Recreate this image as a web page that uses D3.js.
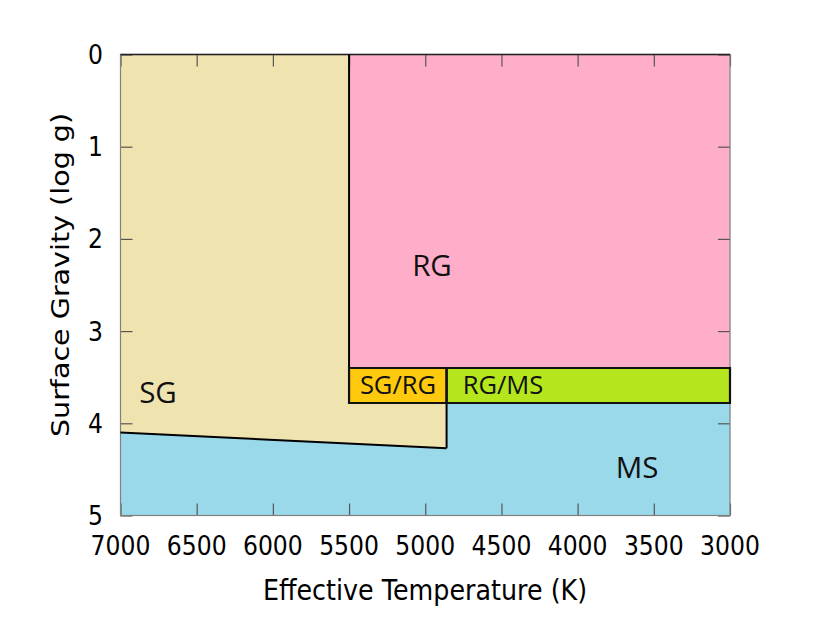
<!DOCTYPE html>
<html><head><meta charset="utf-8">
<script src="https://cdn.jsdelivr.net/npm/d3@7"></script>
<style>body{margin:0;background:#fff;} svg{display:block;}</style>
</head><body>
<svg id="c" width="830" height="642"></svg>
<script>
// ---- data ----
const xTicks = [7000, 6500, 6000, 5500, 5000, 4500, 4000, 3500, 3000];
const yTicks = [0, 1, 2, 3, 4, 5];
const xDomain = [7000, 3000];
const yDomain = [0, 5];
const regionNames = ["SG", "RG", "MS", "SG/RG", "RG/MS"];
const regionColors = ["#EFE4B0", "#FFAEC9", "#99D9EA", "#FFC90E", "#B5E61D"];
const regionPolys = [
  [[7000,0],[5500,0],[5500,3.78],[4860,3.78],[4860,4.27],[7000,4.1]],
  [[5500,0],[3000,0],[3000,3.4],[5500,3.4]],
  [[7000,4.1],[4860,4.27],[4860,3.78],[3000,3.78],[3000,5],[7000,5]],
  [[5500,3.4],[4860,3.4],[4860,3.78],[5500,3.78]],
  [[4860,3.4],[3000,3.4],[3000,3.78],[4860,3.78]]
];
const boundaryLines = [
  [[5500,0],[5500,3.4]],
  [[4860,3.78],[4860,4.27]],
  [[7000,4.1],[4860,4.27]]
];
const outlinedBoxes = [3, 4];
const labelText = ["RG", "SG", "SG/RG", "RG/MS", "MS"];
const labelX = [4956, 6754, 5179, 4490, 3610];
const labelY = [2.40, 3.78, 3.68, 3.68, 4.59];
const labelBig = [true, true, false, false, true];

// ---- layout ----
const svg = d3.select("#c");
const L = 120.5, R = 730, T = 54.5, B = 515.5;
const x = d3.scaleLinear().domain(xDomain).range([L, R]);
const y = d3.scaleLinear().domain(yDomain).range([T, B]);
const line = d3.line().x(d => x(d[0])).y(d => y(d[1]));
const VS = 1.12; // vertical stretch of text

// regions
svg.append("g").selectAll("path").data(regionPolys).join("path")
  .attr("d", d => line(d) + "Z")
  .attr("fill", (d, i) => regionColors[i])
  .attr("stroke", (d, i) => regionColors[i]).attr("stroke-width", 0.5);

// axes ticks (mirror)
const tickColor = "#555";
const tl = 12;
svg.append("g").attr("transform", `translate(0,${B})`)
  .call(d3.axisBottom(x).tickValues(xTicks).tickSize(-tl).tickFormat(""))
  .call(g => g.select(".domain").remove())
  .call(g => g.selectAll("line").attr("stroke", tickColor).attr("stroke-width", 1.2));
svg.append("g").attr("transform", `translate(0,${T})`)
  .call(d3.axisTop(x).tickValues(xTicks).tickSize(-tl).tickFormat(""))
  .call(g => g.select(".domain").remove())
  .call(g => g.selectAll("line").attr("stroke", tickColor).attr("stroke-width", 1.2));
svg.append("g").attr("transform", `translate(${L},0)`)
  .call(d3.axisLeft(y).tickValues(yTicks).tickSize(-tl).tickFormat(""))
  .call(g => g.select(".domain").remove())
  .call(g => g.selectAll("line").attr("stroke", tickColor).attr("stroke-width", 1.2));
svg.append("g").attr("transform", `translate(${R},0)`)
  .call(d3.axisRight(y).tickValues(yTicks).tickSize(-tl).tickFormat(""))
  .call(g => g.select(".domain").remove())
  .call(g => g.selectAll("line").attr("stroke", tickColor).attr("stroke-width", 1.2));

// plot border
svg.append("rect").attr("x", L).attr("y", T).attr("width", R - L).attr("height", B - T)
  .attr("fill", "none").attr("stroke", "#808080").attr("stroke-width", 1.2);
svg.append("line").attr("x1", L).attr("x2", R).attr("y1", T).attr("y2", T)
  .attr("stroke", "#222").attr("stroke-width", 1.5);

// boundaries
svg.append("g").selectAll("path").data(boundaryLines).join("path")
  .attr("d", line).attr("fill", "none").attr("stroke", "#000").attr("stroke-width", 2);
svg.append("g").selectAll("path").data(outlinedBoxes).join("path")
  .attr("d", i => line(regionPolys[i]) + "Z")
  .attr("fill", "none").attr("stroke", "#111").attr("stroke-width", 2.2);

// tick labels
const font = "DejaVu Sans";
const fs = 23.5;
svg.append("g").selectAll("text").data(xTicks).join("text")
  .attr("transform", d => `translate(${x(d)},555) scale(1,${VS})`)
  .attr("text-anchor", "middle").attr("font-family", font).attr("font-size", fs)
  .attr("fill", "#000").text(d => d);
svg.append("g").selectAll("text").data(yTicks).join("text")
  .attr("transform", d => `translate(103,${y(d) + 9.5}) scale(1,${VS})`)
  .attr("text-anchor", "end").attr("font-family", font).attr("font-size", fs)
  .attr("fill", "#000").text(d => d);

// axis titles
svg.append("text").attr("transform", `translate(425,600) scale(1,${VS})`)
  .attr("text-anchor", "middle").attr("font-family", font).attr("font-size", 25.4)
  .attr("fill", "#000").text("Effective Temperature (K)");
svg.append("text").attr("transform", `translate(69,275) scale(1,${VS * 1.02}) rotate(-90)`)
  .attr("text-anchor", "middle").attr("font-family", font).attr("font-size", 25)
  .attr("fill", "#000").text("Surface Gravity (log g)");

// region labels
svg.append("g").selectAll("text").data(labelText).join("text")
  .attr("x", (d, i) => x(labelX[i])).attr("y", (d, i) => y(labelY[i]))
  .attr("text-anchor", "middle").attr("font-family", "Open Sans")
  .attr("font-size", (d, i) => labelBig[i] ? 29.5 : 25.5)
  .attr("fill", "#111").text(d => d);
</script>
</body></html>
